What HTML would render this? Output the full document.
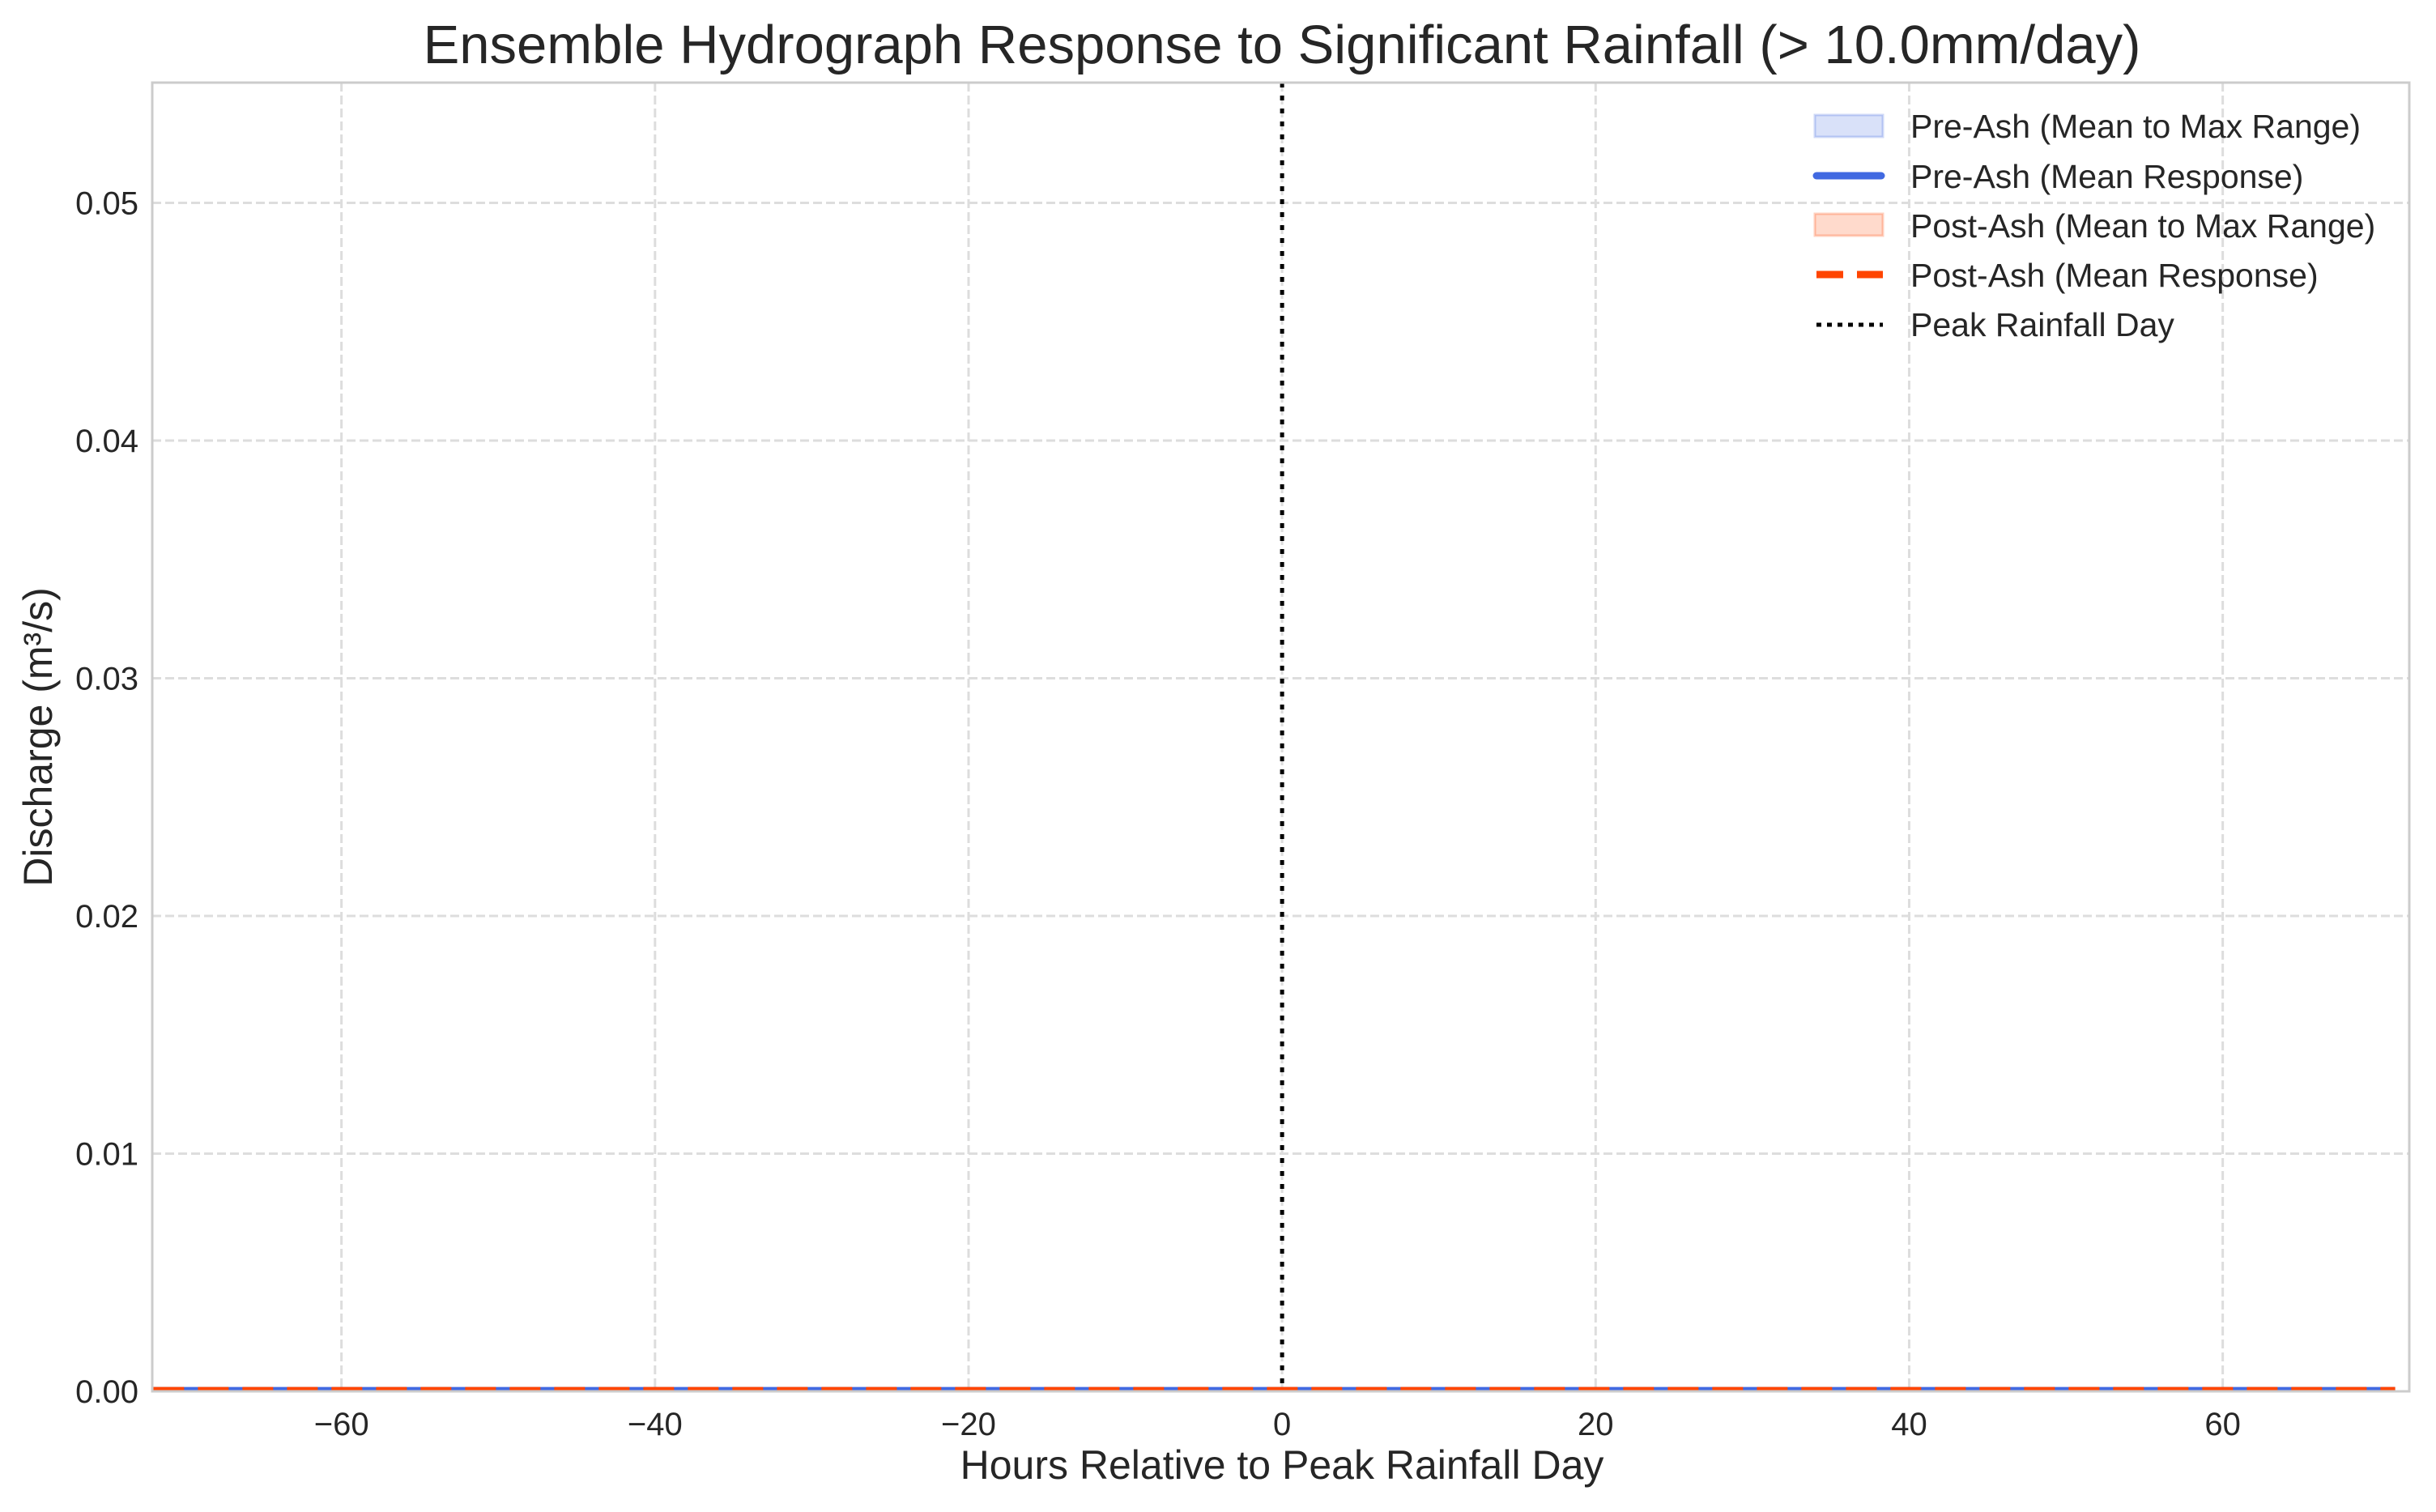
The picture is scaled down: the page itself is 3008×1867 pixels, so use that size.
<!DOCTYPE html>
<html><head><meta charset="utf-8"><style>
html,body{margin:0;padding:0;background:#fff;}
svg{display:block;font-family:"Liberation Sans",sans-serif;}
</style></head><body>
<svg id="chart" width="3008" height="1867" viewBox="0 0 3008 1867" xmlns="http://www.w3.org/2000/svg">
<rect width="3008" height="1867" fill="#fff"/>
<text x="1583" y="78" font-size="67" fill="#262626" text-anchor="middle">Ensemble Hydrograph Response to Significant Rainfall (&gt; 10.0mm/day)</text>
<g id="grid"></g>
<g id="series"></g>
<rect x="188" y="102" width="2787" height="1616" fill="none" stroke="#cccccc" stroke-width="3"/>
<g id="ticks"></g>
<text x="1583" y="1826" font-size="50" fill="#262626" text-anchor="middle">Hours Relative to Peak Rainfall Day</text>
<text transform="translate(64,910) rotate(-90)" font-size="50" fill="#262626" text-anchor="middle">Discharge (m³/s)</text>
<g>
<g>
<rect x="2241" y="142" width="84" height="27" fill="rgba(65,105,225,0.2)" stroke="rgba(65,105,225,0.25)" stroke-width="3"/>
<text x="2359" y="170" font-size="41" fill="#262626">Pre-Ash (Mean to Max Range)</text></g>
<g>
<line x1="2243" y1="217" x2="2323" y2="217" stroke="#4169e1" stroke-width="9" stroke-linecap="round"/>
<text x="2359" y="232" font-size="41" fill="#262626">Pre-Ash (Mean Response)</text></g>
<g>
<rect x="2241" y="264" width="84" height="27" fill="rgba(255,69,0,0.2)" stroke="rgba(255,69,0,0.25)" stroke-width="3"/>
<text x="2359" y="293" font-size="41" fill="#262626">Post-Ash (Mean to Max Range)</text></g>
<g>
<line x1="2243" y1="339" x2="2325" y2="339" stroke="#ff4500" stroke-width="9" stroke-dasharray="33,17"/>
<text x="2359" y="354" font-size="41" fill="#262626">Post-Ash (Mean Response)</text></g>
<g>
<line x1="2243" y1="401" x2="2325" y2="401" stroke="#000" stroke-width="5" stroke-dasharray="6,7"/>
<text x="2359" y="415" font-size="41" fill="#262626">Peak Rainfall Day</text></g>
</g>
</svg>
<script>
const hours = [-72,-66,-60,-54,-48,-42,-36,-30,-24,-18,-12,-6,0,6,12,18,24,30,36,42,48,54,60,66,71];
const preMean = [0.0001,0.0001,0.0001,0.0001,0.0001,0.0001,0.0001,0.0001,0.0001,0.0001,0.0001,0.0001,0.0001,0.0001,0.0001,0.0001,0.0001,0.0001,0.0001,0.0001,0.0001,0.0001,0.0001,0.0001,0.0001];
const preMax = [0.0001,0.0001,0.0001,0.0001,0.0001,0.0001,0.0001,0.0001,0.0001,0.0001,0.0001,0.0001,0.0001,0.0001,0.0001,0.0001,0.0001,0.0001,0.0001,0.0001,0.0001,0.0001,0.0001,0.0001,0.0001];
const postMean = [0.0001,0.0001,0.0001,0.0001,0.0001,0.0001,0.0001,0.0001,0.0001,0.0001,0.0001,0.0001,0.0001,0.0001,0.0001,0.0001,0.0001,0.0001,0.0001,0.0001,0.0001,0.0001,0.0001,0.0001,0.0001];
const postMax = [0.0001,0.0001,0.0001,0.0001,0.0001,0.0001,0.0001,0.0001,0.0001,0.0001,0.0001,0.0001,0.0001,0.0001,0.0001,0.0001,0.0001,0.0001,0.0001,0.0001,0.0001,0.0001,0.0001,0.0001,0.0001];
const xTicks = [-60,-40,-20,0,20,40,60];
const xTickLabels = ["\u221260","\u221240","\u221220","0","20","40","60"];
const yTicks = [0,0.01,0.02,0.03,0.04,0.05];
const yTickLabels = ["0.00","0.01","0.02","0.03","0.04","0.05"];
const peakHour = 0;

const NS="http://www.w3.org/2000/svg";
const X0=188,X1=2975,Y0=102,Y1=1718,XMIN=-72.07,XMAX=71.9,YMIN=0,YMAX=0.05506;
function sx(v){return X0+(v-XMIN)/(XMAX-XMIN)*(X1-X0);}
function sy(v){return Y1-(v-YMIN)/(YMAX-YMIN)*(Y1-Y0);}
function mk(tag,attrs,parent){const e=document.createElementNS(NS,tag);for(const k in attrs)e.setAttribute(k,attrs[k]);parent.appendChild(e);return e;}
const grid=document.getElementById('grid'),ticks=document.getElementById('ticks'),series=document.getElementById('series');
xTicks.forEach((t,i)=>{
  const l=mk('line',{x1:sx(t),x2:sx(t),y1:Y0,y2:Y1,stroke:'#dddddd','stroke-width':3,'stroke-dasharray':'11,5'},grid);
  
  
  const tx=mk('text',{x:sx(t),y:1772,'font-size':40,fill:'#262626','text-anchor':'middle'},ticks);
  tx.textContent=xTickLabels[i];
  
  
});
yTicks.forEach((t,i)=>{
  const l=mk('line',{x1:X0,x2:X1,y1:sy(t),y2:sy(t),stroke:'#dddddd','stroke-width':3,'stroke-dasharray':'11,5'},grid);
  
  
  const tx=mk('text',{x:171,y:sy(t)+14,'font-size':40,fill:'#262626','text-anchor':'end'},ticks);
  tx.textContent=yTickLabels[i];
  
  
});
function band(lo,hi,fill,name){
  let d='M'+hours.map((h,i)=>sx(h)+','+sy(hi[i])).join('L');
  for(let i=hours.length-1;i>=0;i--)d+='L'+sx(hours[i])+','+sy(lo[i]);
  const p=mk('path',{d:d+'Z',fill:fill,stroke:fill,'stroke-width':2},series);
  
  
}
function line(vals,attrs,name){
  const p=mk('path',Object.assign({d:'M'+hours.map((h,i)=>sx(h)+','+sy(vals[i])).join('L'),fill:'none'},attrs),series);
  
  
}
band(preMean,preMax,'rgba(65,105,225,0.2)','pre-ash-range-band');
band(postMean,postMax,'rgba(255,69,0,0.2)','post-ash-range-band');
line(preMean,{stroke:'#4169e1','stroke-width':5},'pre-ash-mean-line');
line(postMean,{stroke:'#ff4500','stroke-width':5,'stroke-dasharray':'38,17'},'post-ash-mean-line');
const pk=mk('line',{x1:sx(peakHour),x2:sx(peakHour),y1:Y0,y2:Y1,stroke:'#000','stroke-width':5,'stroke-dasharray':'6,10'},series);


</script>
</body></html>
